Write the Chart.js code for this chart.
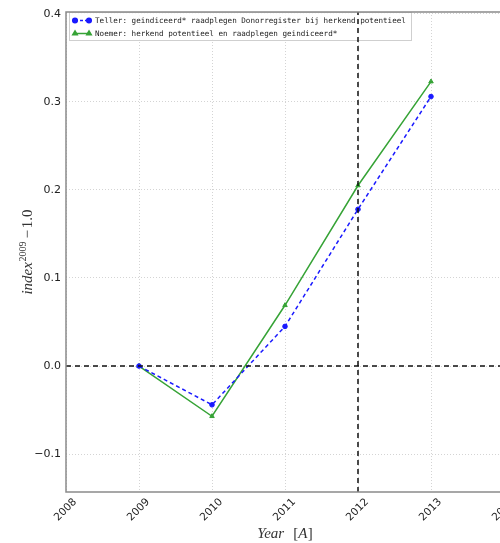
<!DOCTYPE html>
<html>
<head>
<meta charset="utf-8">
<script src="https://cdn.jsdelivr.net/npm/chart.js@4/dist/chart.umd.min.js"></script>
<style>
  html, body { margin: 0; padding: 0; background: #fff; overflow: hidden; }
  #wrap { position: absolute; left: 0; top: 0; width: 560px; height: 543px; }
</style>
</head>
<body>
<div id="wrap"><canvas id="chart" width="560" height="543"></canvas></div>
<script>
const years = [2009, 2010, 2011, 2012, 2013];
const teller = [0.0, -0.044, 0.045, 0.178, 0.306];
const noemer = [0.0, -0.057, 0.069, 0.205, 0.323];
const legendLabels = [
  "Teller: geindiceerd* raadplegen Donorregister bij herkend potentieel",
  "Noemer: herkend potentieel en raadplegen geindiceerd*",
];
const xTicks = [2008, 2009, 2010, 2011, 2012, 2013, 2014];
const yTicks = [-0.1, 0.0, 0.1, 0.2, 0.3, 0.4];
const xRange = [2008, 2014];
const yRange = [-0.143, 0.402];
const markYear = 2012;

const blue = "#1a1aff";
const green = "#36a336";

function toPoints(xs, ys) {
  return xs.map((x, i) => ({ x: x, y: ys[i] }));
}

// legend drawn inside the axes, under the data (grid and vline show through)
const insideLegend = {
  id: "insideLegend",
  beforeDatasetsDraw(chart) {
    const ctx = chart.ctx;
    const area = chart.chartArea;
    const x0 = area.left + 3, y0 = area.top + 0.5;
    ctx.save();
    ctx.fillStyle = "rgba(255,255,255,0.8)";
    ctx.strokeStyle = "#cfcfcf";
    ctx.lineWidth = 1;
    ctx.fillRect(x0, y0, 342, 28);
    ctx.strokeRect(x0 + 0.5, y0, 342, 28);
    const styles = [
      { color: blue, dash: [3, 2], point: "circle", r: 2.3 },
      { color: green, dash: [], point: "triangle", r: 2.6 },
    ];
    legendLabels.forEach((label, i) => {
      const s = styles[i];
      const y = y0 + 8 + i * 13;
      ctx.strokeStyle = s.color;
      ctx.lineWidth = 1.5;
      ctx.setLineDash(s.dash);
      ctx.beginPath();
      ctx.moveTo(x0 + 6, y);
      ctx.lineTo(x0 + 20, y);
      ctx.stroke();
      ctx.setLineDash([]);
      ctx.fillStyle = s.color;
      [x0 + 6, x0 + 20].forEach((px) => {
        Chart.helpers.drawPoint(ctx, { pointStyle: s.point, radius: s.r, rotation: 0, borderWidth: 1 }, px, y);
        ctx.fill();
      });
      ctx.fillStyle = "#222";
      ctx.font = "7.6px 'DejaVu Sans Mono'";
      ctx.textBaseline = "middle";
      ctx.textAlign = "left";
      ctx.fillText(label, x0 + 26, y + 0.5);
    });
    ctx.restore();
  },
};

// axes box and the math-style axis titles
const frameAndTitles = {
  id: "frameAndTitles",
  afterDraw(chart) {
    const ctx = chart.ctx;
    const area = chart.chartArea;
    ctx.save();
    ctx.strokeStyle = "#8a8a8a";
    ctx.lineWidth = 1.5;
    ctx.strokeRect(area.left, area.top, area.right - area.left, area.bottom - area.top);

    ctx.fillStyle = "#333";
    ctx.textBaseline = "alphabetic";
    ctx.textAlign = "left";
    const it = "italic 15px 'Liberation Serif'";
    const up = "15px 'Liberation Serif'";
    const sm = "10px 'Liberation Serif'";

    // y title: index^{2009} -1.0
    const parts = [
      { t: "index", f: it, dy: 0, gap: 0 },
      { t: "2009", f: sm, dy: -6, gap: 0.5 },
      { t: "\u2212", f: up, dy: 0, gap: 3 },
      { t: "1.0", f: up, dy: 0, gap: 2 },
    ];
    let total = 0;
    parts.forEach((p) => { ctx.font = p.f; p.w = ctx.measureText(p.t).width; total += p.w + p.gap; });
    ctx.translate(32, (area.top + area.bottom) / 2);
    ctx.rotate(-Math.PI / 2);
    let x = -total / 2;
    parts.forEach((p) => { x += p.gap; ctx.font = p.f; ctx.fillText(p.t, x, p.dy); x += p.w; });
    ctx.setTransform(1, 0, 0, 1, 0, 0);

    // x title: Year  [A]
    const xparts = [
      { t: "Year", f: it, gap: 0 },
      { t: "[", f: up, gap: 9 },
      { t: "A", f: it, gap: 0 },
      { t: "]", f: up, gap: 0.5 },
    ];
    total = 0;
    xparts.forEach((p) => { ctx.font = p.f; p.w = ctx.measureText(p.t).width; total += p.w + p.gap; });
    x = (area.left + area.right) / 2 - total / 2;
    xparts.forEach((p) => { x += p.gap; ctx.font = p.f; ctx.fillText(p.t, x, 538); x += p.w; });
    ctx.restore();
  },
};

new Chart(document.getElementById("chart"), {
  type: "line",
  data: {
    datasets: [
      {
        label: legendLabels[0],
        data: toPoints(years, teller),
        borderColor: blue,
        backgroundColor: blue,
        borderWidth: 1.5,
        borderDash: [4, 3],
        pointStyle: "circle",
        pointRadius: 2.3,
        pointBorderWidth: 1,
        order: 1,
      },
      {
        label: legendLabels[1],
        data: toPoints(years, noemer),
        borderColor: green,
        backgroundColor: green,
        borderWidth: 1.5,
        pointStyle: "triangle",
        pointRadius: 2.6,
        pointBorderWidth: 1,
        order: 1,
      },
      {
        label: "zero",
        data: [{ x: xRange[0], y: 0 }, { x: xRange[1], y: 0 }],
        borderColor: "#111",
        borderWidth: 1.5,
        borderDash: [5, 4],
        pointRadius: 0,
        order: 0,
      },
      {
        label: "mark",
        data: [{ x: markYear, y: yRange[0] }, { x: markYear, y: yRange[1] }],
        borderColor: "#111",
        borderWidth: 1.5,
        borderDash: [5, 4],
        pointRadius: 0,
        order: 0,
      },
    ],
  },
  options: {
    responsive: false,
    devicePixelRatio: 1,
    animation: false,
    layout: { padding: { left: 0, right: 56, top: 12, bottom: 0 } },
    plugins: { legend: { display: false }, tooltip: { enabled: false } },
    scales: {
      x: {
        type: "linear",
        min: xRange[0],
        max: xRange[1],
        afterBuildTicks: (scale) => { scale.ticks = xTicks.map((v) => ({ value: v })); },
        afterFit: (scale) => { scale.height = 51; },
        grid: { color: "#d4d4d4", lineWidth: 1, drawTicks: false },
        border: { display: false, dash: [1, 2] },
        ticks: {
          color: "#222",
          font: { family: "'DejaVu Sans'", size: 10.5 },
          minRotation: 45,
          maxRotation: 45,
          padding: 4,
          labelOffset: 9,
          callback: (v) => String(v),
        },
      },
      y: {
        min: yRange[0],
        max: yRange[1],
        afterBuildTicks: (scale) => { scale.ticks = yTicks.map((v) => ({ value: v })); },
        afterFit: (scale) => { scale.width = 66; },
        grid: { color: "#d4d4d4", lineWidth: 1, drawTicks: false },
        border: { display: false, dash: [1, 2] },
        ticks: {
          color: "#222",
          font: { family: "'DejaVu Sans'", size: 11 },
          padding: 5,
          callback: (v) => v.toFixed(1).replace("-", "\u2212"),
        },
      },
    },
  },
  plugins: [insideLegend, frameAndTitles],
});
</script>
</body>
</html>
